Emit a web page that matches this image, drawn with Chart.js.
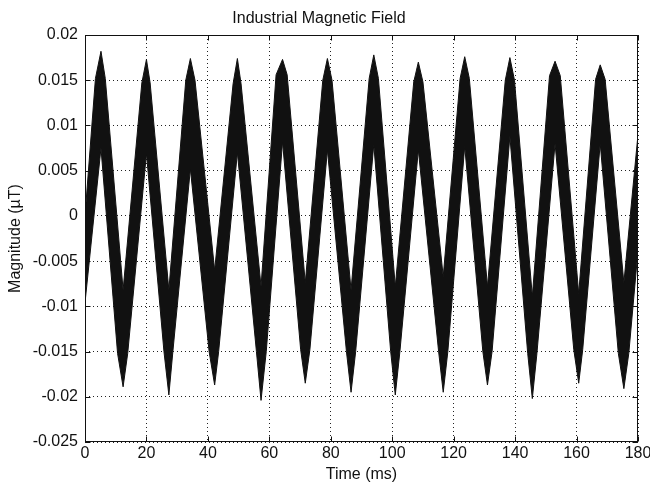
<!DOCTYPE html>
<html>
<head>
<meta charset="utf-8">
<title>Industrial Magnetic Field</title>
<script src="https://cdn.jsdelivr.net/npm/chart.js@4.4.1/dist/chart.umd.min.js"></script>
<style>
  html, body { margin: 0; padding: 0; background: #fff; }
  #fieldChart { display: block; }
</style>
</head>
<body>
<canvas id="fieldChart" width="650" height="485"></canvas>
<script>
// ==========================================
// Campo magnético industrial - envelope do sinal ruidoso
// ==========================================
// o traço é uma faixa preta grossa: guardamos a borda de cima e a de baixo (ms / uT)
const upperTime  = [0, 3.4, 5.2, 6.6, 12.4, 18.5, 20.0, 21.2, 27.3, 32.8, 34.3, 35.8, 42.2, 48.2, 49.6, 50.8, 57.3,
                    62.2, 64.3, 65.8, 71.7, 77.4, 78.9, 80.4, 86.6, 92.5, 94.0, 95.5, 101.0, 107.0, 108.5, 110.0, 116.6,
                    122.1, 123.6, 125.1, 131.0, 136.8, 138.3, 139.8, 145.6, 151.2, 153.0, 154.7, 160.7, 166.2, 167.7, 169.3, 175.4, 180];
const upperField = [0.0000, 0.0152, 0.0182, 0.0152, -0.0082, 0.0147, 0.0173, 0.0147, -0.0082, 0.0150, 0.0174, 0.0150, -0.0060, 0.0146, 0.0174, 0.0146, -0.0078,
                    0.0156, 0.0173, 0.0156, -0.0074, 0.0150, 0.0174, 0.0150, -0.0082, 0.0152, 0.0178, 0.0152, -0.0078, 0.0148, 0.0170, 0.0148, -0.0067,
                    0.0152, 0.0176, 0.0152, -0.0078, 0.0150, 0.0175, 0.0150, -0.0089, 0.0155, 0.0171, 0.0155, -0.0086, 0.0151, 0.0167, 0.0151, -0.0074, 0.0090];

const lowerTime  = [0, 5.2, 10.6, 12.4, 13.9, 20.0, 25.7, 27.3, 28.6, 34.3, 40.4, 42.2, 43.5, 49.6, 55.8, 57.3, 59.0,
                    64.3, 70.2, 71.7, 73.2, 78.9, 85.1, 86.6, 88.1, 94.0, 99.5, 101.0, 102.5, 108.5, 115.1, 116.6, 118.1,
                    123.6, 129.5, 131.0, 132.5, 138.3, 144.1, 145.6, 147.1, 153.0, 159.1, 160.7, 162.0, 167.7, 173.6, 175.4, 177.0, 180];
const lowerField = [-0.0096, 0.0075, -0.0152, -0.0189, -0.0152, 0.0069, -0.0150, -0.0198, -0.0150, 0.0052, -0.0150, -0.0187, -0.0150, 0.0070, -0.0150, -0.0204, -0.0150,
                    0.0082, -0.0148, -0.0185, -0.0148, 0.0073, -0.0150, -0.0195, -0.0150, 0.0079, -0.0150, -0.0198, -0.0150, 0.0073, -0.0150, -0.0195, -0.0150,
                    0.0077, -0.0150, -0.0187, -0.0150, 0.0088, -0.0152, -0.0202, -0.0152, 0.0080, -0.0148, -0.0185, -0.0148, 0.0080, -0.0152, -0.0191, -0.0152, -0.0038];

const xTickValues = [0, 20, 40, 60, 80, 100, 120, 140, 160, 180];
const xTickLabels = ['0', '20', '40', '60', '80', '100', '120', '140', '160', '180'];
const yTickValues = [-0.025, -0.02, -0.015, -0.01, -0.005, 0, 0.005, 0.01, 0.015, 0.02];
const yTickLabels = ['-0.025', '-0.02', '-0.015', '-0.01', '-0.005', '0', '0.005', '0.01', '0.015', '0.02'];

Chart.defaults.font.family = "'Liberation Sans', Arial, Helvetica, sans-serif";
Chart.defaults.font.size = 16;
Chart.defaults.color = '#111';

// caixa estilo MATLAB com ticks para dentro nos 4 lados
const boxTicks = {
    id: 'boxTicks',
    afterDraw(chart) {
        const { ctx, chartArea: a, scales: { x, y } } = chart;
        const L = Math.round(a.left) + 0.5, R = Math.round(a.right) - 0.5;
        const T = Math.round(a.top) + 0.5, B = Math.round(a.bottom) - 0.5;
        const len = 5;
        ctx.save();
        ctx.strokeStyle = '#111'; ctx.lineWidth = 1; ctx.setLineDash([]);
        ctx.beginPath();
        x.ticks.forEach(t => {
            const px = Math.round(x.getPixelForValue(t.value)) + 0.5;
            ctx.moveTo(px, B); ctx.lineTo(px, B - len);
            ctx.moveTo(px, T); ctx.lineTo(px, T + len);
        });
        y.ticks.forEach(t => {
            const py = Math.round(y.getPixelForValue(t.value)) + 0.5;
            ctx.moveTo(L, py); ctx.lineTo(L + len, py);
            ctx.moveTo(R, py); ctx.lineTo(R - len, py);
        });
        ctx.stroke();
        ctx.strokeRect(L, T, R - L, B - T);
        ctx.restore();
    }
};

const gridOpts = { color: '#222', lineWidth: 1, drawTicks: false };
const borderOpts = { display: false, dash: [1, 3] };

new Chart(document.getElementById('fieldChart').getContext('2d'), {
    type: 'line',
    data: {
        datasets: [
            { label: 'upper', data: upperTime.map((t, i) => ({ x: t, y: upperField[i] })),
              borderColor: '#111', backgroundColor: '#111', borderWidth: 1, pointRadius: 0, tension: 0, fill: '+1' },
            { label: 'lower', data: lowerTime.map((t, i) => ({ x: t, y: lowerField[i] })),
              borderColor: '#111', backgroundColor: '#111', borderWidth: 1, pointRadius: 0, tension: 0, fill: false }
        ]
    },
    options: {
        responsive: false,
        animation: false,
        events: [],
        layout: { padding: { left: 0, right: 12, top: 0, bottom: 0 } },
        plugins: {
            legend: { display: false },
            tooltip: { enabled: false },
            title: { display: true, text: 'Industrial Magnetic Field', color: '#111',
                     font: { size: 16, weight: 'normal' }, padding: { top: 9, bottom: 6.8 } }
        },
        scales: {
            x: {
                type: 'linear', min: 0, max: 180,
                afterBuildTicks: s => { s.ticks = xTickValues.map(v => ({ value: v })); },
                afterFit: s => { s.height = 43; s.paddingLeft = 0; s.paddingRight = 0; },
                ticks: { autoSkip: false, maxRotation: 0, padding: 2, callback: (v, i) => xTickLabels[i] },
                grid: gridOpts, border: borderOpts,
                title: { display: true, text: 'Time (ms)', padding: { top: 0, bottom: 1 } }
            },
            y: {
                type: 'linear', min: -0.025, max: 0.02,
                afterBuildTicks: s => { s.ticks = yTickValues.map(v => ({ value: v })); },
                afterFit: s => { s.width = 85; },
                ticks: { autoSkip: false, padding: 7, callback: (v, i) => yTickLabels[i] },
                grid: gridOpts, border: borderOpts,
                title: { display: true, text: 'Magnitude (\u00b5T)', padding: { top: 6, bottom: 0 } }
            }
        }
    },
    plugins: [boxTicks]
});
</script>
</body>
</html>
